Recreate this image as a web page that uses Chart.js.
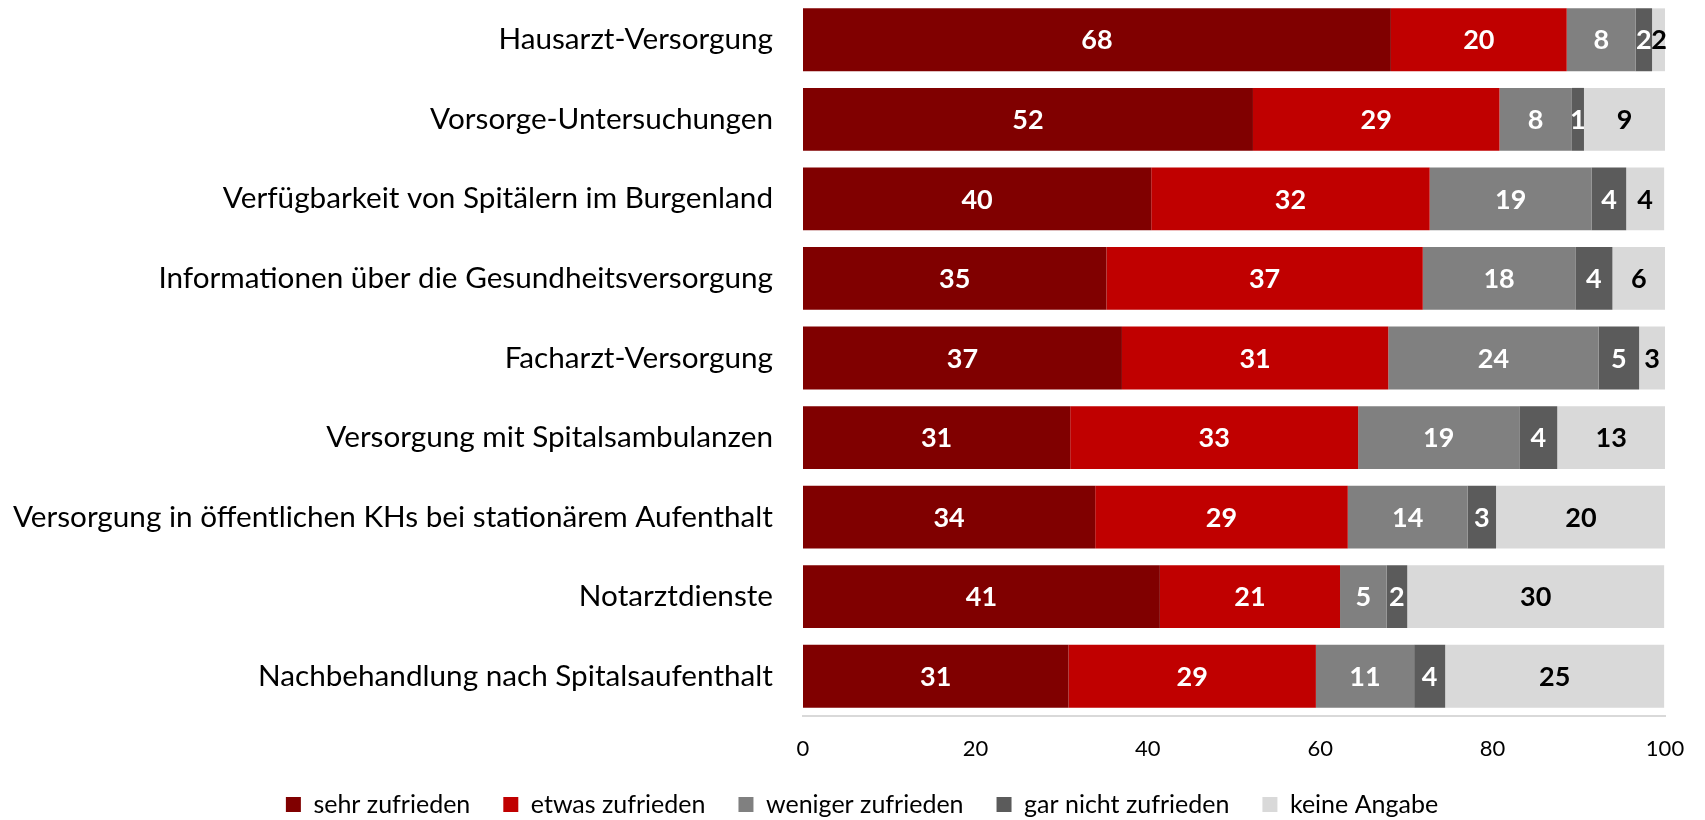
<!DOCTYPE html>
<html><head><meta charset="utf-8">
<script src="https://cdn.jsdelivr.net/npm/chart.js@4/dist/chart.umd.min.js"></script>
<style>html,body{margin:0;padding:0;background:#fff}#wrap{width:1705px;height:820px}</style>
</head><body>
<div id="wrap"><canvas id="c" width="1705" height="820"></canvas></div>
<script>
const categories = [
  'Hausarzt-Versorgung',
  'Vorsorge-Untersuchungen',
  'Verfügbarkeit von Spitälern im Burgenland',
  'Informationen über die Gesundheitsversorgung',
  'Facharzt-Versorgung',
  'Versorgung mit Spitalsambulanzen',
  'Versorgung in öffentlichen KHs bei stationärem Aufenthalt',
  'Notarztdienste',
  'Nachbehandlung nach Spitalsaufenthalt'
];
const sehrZufrieden     = [68.2, 52.2, 40.4, 35.2, 37.0, 31.0, 33.9, 41.4, 30.8];
const etwasZufrieden    = [20.4, 28.6, 32.3, 36.7, 30.9, 33.4, 29.3, 20.9, 28.7];
const wenigerZufrieden  = [8.0, 8.4, 18.8, 17.7, 24.4, 18.7, 13.9, 5.4, 11.4];
const garNichtZufrieden = [1.9, 1.4, 4.0, 4.3, 4.7, 4.4, 3.3, 2.4, 3.6];
const keineAngabe       = [1.6, 9.4, 4.4, 6.1, 3.0, 12.5, 19.7, 29.8, 25.4];
const seriesNames = ['sehr zufrieden', 'etwas zufrieden', 'weniger zufrieden', 'gar nicht zufrieden', 'keine Angabe'];
const xTicks = [0, 20, 40, 60, 80, 100];

const FONT = 'Lato, "Open Sans", sans-serif';
const colors = ['#800000', '#C00000', '#808080', '#5B5B5B', '#D9D9D9'];
const labelColors = ['#fff', '#fff', '#fff', '#fff', '#000'];
const seriesData = [sehrZufrieden, etwasZufrieden, wenigerZufrieden, garNichtZufrieden, keineAngabe];

const valueLabels = {
  id: 'valueLabels',
  afterDatasetsDraw(chart) {
    const ctx = chart.ctx;
    chart.data.datasets.forEach((ds, i) => {
      const meta = chart.getDatasetMeta(i);
      meta.data.forEach((bar, j) => {
        const p = bar.getProps(['x', 'y', 'base'], true);
        ctx.save();
        ctx.font = 'bold 27px ' + FONT;
        ctx.fillStyle = labelColors[i];
        ctx.textAlign = 'center';
        ctx.textBaseline = 'middle';
        ctx.fillText(String(Math.round(ds.data[j])), (p.x + p.base) / 2, p.y + 1);
        ctx.restore();
      });
    });
  }
};

const legendShift = {
  id: 'legendShift',
  afterLayout(chart) { if (chart.legend) chart.legend.left += 59; }
};

new Chart(document.getElementById('c'), {
  type: 'bar',
  data: {
    labels: categories,
    datasets: seriesNames.map((n, i) => ({
      label: n,
      data: seriesData[i],
      backgroundColor: colors[i],
      borderWidth: 0,
      categoryPercentage: 1,
      barPercentage: 0.79
    }))
  },
  options: {
    indexAxis: 'y',
    responsive: false,
    animation: false,
    layout: { padding: { left: 0, right: 40, top: 0, bottom: 0 } },
    scales: {
      x: {
        stacked: true, min: 0, max: 100,
        afterBuildTicks(s) { s.ticks = xTicks.map(v => ({ value: v })); },
        afterFit(s) { s.height = 43; },
        grid: { display: false, drawTicks: false },
        border: { display: true, color: '#D9D9D9', width: 2 },
        ticks: { padding: 20, color: '#000', font: { family: FONT, size: 22 } }
      },
      y: {
        stacked: true,
        afterFit(s) { s.width = 803; s.paddingTop = 0; s.paddingBottom = 0; },
        grid: { display: false, drawTicks: false },
        border: { display: false },
        ticks: { padding: 30, color: '#000', font: { family: FONT, size: 29.7 } }
      }
    },
    plugins: {
      legend: {
        position: 'bottom',
        maxHeight: 61,
        labels: { boxWidth: 15, boxHeight: 15, padding: 33, color: '#000', font: { family: FONT, size: 25 } }
      },
      tooltip: { enabled: false }
    }
  },
  plugins: [valueLabels, legendShift]
});
</script>
</body></html>
